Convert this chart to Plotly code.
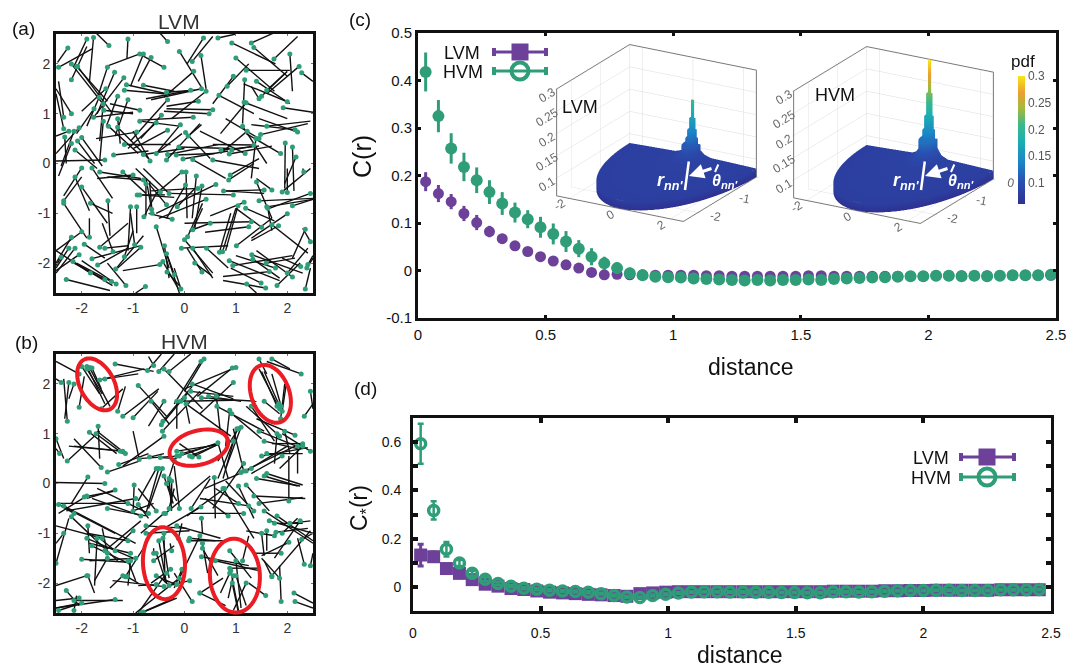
import numpy as np
import plotly.graph_objects as go

W, H = 1083, 667
PURPLE = "#6d4199"
GREEN = "#2f9d78"
DOT = "#2f9d78"
RED = "#ec1c24"
FONT = "Liberation Sans"

# rods (a) and (b): dot x, dot y, other end x, other end y
lvm_rods = [
(-2.27,2.32,-2.47,2.03),(-1.9,2.5,-2.15,1.95),(-1.77,2.53,-1.85,1.63),(-1.47,2.37,-1.75,2.65),(-1.1,2.5,-1.12,2.1),
(-0.87,2.2,-1.52,1.95),(-0.4,1.93,-0.88,2.2),(-0.65,2.13,-0.9,1.65),(-0.8,2.2,-1.05,1.55),(-0.33,2.45,-0.55,2.7),
(-0.1,2.25,0.35,1.5),(0.15,2.05,0.55,2.55),(0.32,2.17,0.42,1.5),(0.18,1.85,-0.4,1.33),(0.37,2.52,0.05,2.0),
(0.65,2.52,1.0,2.6),(0.92,2.42,1.77,2.0),(1.3,2.42,1.8,2.65),(1.35,2.33,2.0,1.75),(1.0,2.12,1.75,1.45),
(1.74,2.1,2.2,2.55),(2.05,2.2,2.1,1.45),(1.2,1.87,2.05,1.87),(0.95,1.75,0.55,1.2),(0.83,1.55,1.25,2.0),
(1.17,1.68,1.13,0.8),(2.23,1.95,1.6,1.4),(2.28,1.82,2.5,1.65),(-2.08,1.95,-1.4,1.0),(-2.2,2.0,-1.55,1.15),
(-2.1,1.95,-1.5,1.25),(-2.45,1.93,-1.8,2.3),(-2.2,1.68,-1.9,2.35),(-1.36,1.83,-1.7,1.0),(-1.18,1.72,-1.75,0.95),
(-1.5,1.93,-1.7,1.3),(-0.8,1.57,-0.2,1.45),(-1.13,1.58,-0.35,1.4),(-1.17,1.47,-0.4,1.4),(-0.35,1.43,0.2,1.47),
(0.12,1.47,-0.75,1.3),(0.33,1.5,-0.65,1.28),(0.42,1.45,-0.25,0.9),(1.4,1.65,2.05,1.2),(1.6,1.47,2.0,1.85),
(1.5,1.35,1.95,1.8),(1.45,1.3,1.3,1.55),(2.0,1.24,1.15,1.6),(1.16,1.23,2.0,0.9),(1.2,1.22,0.7,0.6),
(1.92,1.12,2.5,1.03),(-1.53,1.5,-2.0,1.05),(-1.66,1.33,-1.9,0.75),(-1.3,1.35,-1.52,0.75),(-1.1,1.28,-1.35,0.55),
(-1.58,1.2,-1.65,0.45),(-1.76,1.1,-2.1,0.6),(-1.57,1.07,-1.0,1.0),(-1.77,0.93,-1.0,1.03),(-0.87,1.07,-1.45,1.2),
(-0.33,1.28,-1.05,0.45),(0.27,1.25,-0.35,1.15),(0.55,1.08,-0.35,1.1),(0.48,1.0,-0.4,1.05),(0.67,1.37,1.35,1.0),
(-0.45,0.97,-0.85,0.5),(0.17,0.93,-0.85,0.87),(-0.87,0.85,-0.1,0.75),(-0.55,0.82,-1.1,0.3),(-1.3,0.9,-1.25,0.4),
(-1.58,0.85,-1.65,0.05),(-1.48,0.75,-0.9,0.2),(-1.3,0.73,-0.7,0.1),(-2.35,0.93,-2.45,1.65),(-2.2,1.0,-2.5,1.5),
(-2.35,0.7,-2.5,1.4),(-2.25,0.65,-2.5,0.55),(-2.33,0.53,-2.3,0.0),(-2.15,0.65,-2.4,-0.05),(-2.05,0.72,-2.5,0.2),
(-2.0,0.52,-1.6,-0.05),(-2.08,0.45,-1.75,0.0),(-2.2,0.4,-2.45,-0.25),(-2.13,0.27,-1.7,-0.1),(-0.93,0.63,-1.72,0.5),
(-0.33,0.67,-1.0,0.3),(-0.08,0.78,-0.55,0.2),(0.02,0.62,0.5,0.1),(0.07,0.55,0.33,0.78),(1.13,0.75,1.6,0.0),
(1.22,0.65,0.7,0.2),(1.6,0.75,2.45,0.85),(1.48,0.58,2.4,0.8),(1.39,0.5,1.3,-0.3),(1.45,0.5,0.8,0.9),
(2.15,0.68,1.3,0.78),(2.2,0.63,1.45,0.9),(1.96,0.41,1.95,-0.5),(2.1,0.33,2.13,-0.55),(2.17,0.13,1.95,-0.4),
(1.87,0.2,1.2,0.6),(-1.17,0.38,-0.27,0.38),(-1.38,0.17,-0.7,0.25),(-0.8,0.18,0.0,0.3),(-0.67,0.05,-1.0,0.65),
(-0.55,0.2,-0.05,0.6),(-0.33,0.18,0.65,0.38),(-0.35,0.07,0.3,0.8),(-0.16,0.17,0.58,0.2),(-0.11,0.33,0.9,0.3),
(-0.03,0.09,0.85,0.25),(0.16,0.08,0.8,-0.3),(0.55,0.07,1.45,-0.1),(0.71,0.27,1.45,0.35),(0.87,0.19,1.7,0.35),
(0.92,0.27,1.35,0.35),(1.18,0.2,0.3,0.65),(1.35,0.37,0.55,0.38),(-1.55,0.07,-2.5,0.05),(-2.0,-0.09,-2.35,-0.65),
(-1.8,-0.09,-1.4,-0.7),(-1.65,-0.17,-0.85,-0.3),(-1.2,-0.17,-0.75,-0.6),(-1.0,-0.23,-1.7,-0.3),(-0.8,-0.33,-1.5,-0.27),
(-0.75,-0.41,-0.75,-1.05),(-2.13,-0.27,-1.85,-0.95),(-2.35,-0.75,-2.0,-0.27),(-0.05,-0.17,-0.55,-0.6),(0.03,-0.17,0.05,-1.1),
(0.02,-0.43,-0.35,-1.1),(0.23,-0.25,0.15,-1.1),(0.26,-0.5,-0.65,-0.55),(0.34,-0.45,0.2,-1.3),(0.61,-0.42,-0.55,-1.0),
(0.76,-0.55,1.55,-0.6),(0.89,-0.23,1.45,0.1),(0.86,-0.33,1.35,0.0),(0.95,-0.63,-0.3,-0.6),(1.4,-0.37,1.7,-1.1),
(1.55,-0.53,0.8,-0.55),(1.7,-0.53,1.4,-0.3),(1.9,-0.57,2.45,-0.1),(2.0,-0.58,2.0,-0.1),(2.32,-0.17,2.3,-0.1),
(2.45,-0.6,1.65,-0.9),(-0.92,-0.63,-0.38,-0.63),(-0.87,-0.63,-0.2,-0.68),(-0.47,-0.57,-0.95,-0.1),(-0.3,-0.6,-0.8,-0.1),
(-0.35,-0.83,-0.7,-0.4),(-0.14,-0.87,0.2,-0.5),(-0.64,-0.92,-0.75,-0.3),(-0.63,-1.0,-0.68,-0.35),(-0.79,-1.07,-0.55,-0.6),
(-1.05,-0.87,-1.1,-1.75),(-0.93,-0.87,-0.93,-1.4),(-1.49,-0.75,-1.45,-1.45),(-1.83,-0.8,-1.4,-1.0),(-2.0,-0.47,-1.5,-1.2),
(-2.35,-0.8,-1.9,-1.5),(0.42,-0.72,-0.5,-1.1),(1.16,-0.78,0.5,-1.05),(1.04,-0.85,0.8,-1.75),(1.19,-0.9,1.75,-1.15),
(1.45,-0.75,2.5,-0.7),(1.6,-0.87,2.5,-0.72),(1.62,-0.9,1.7,-1.35),(2.1,-0.85,2.5,-0.72),(2.0,-1.01,1.3,-1.5),
(-0.24,-1.12,-0.7,-1.0),(-0.55,-1.27,-0.3,-2.1),(0.5,-1.2,0.1,-1.35),(1.3,-1.17,0.0,-1.2),(1.25,-1.27,0.4,-1.38),
(1.5,-1.28,1.0,-0.9),(1.7,-1.23,2.4,-1.8),(1.83,-1.25,1.3,-1.55),(2.35,-1.32,2.1,-1.9),(0.16,-1.33,0.35,-0.9),
(0.06,-1.47,0.35,-0.8),(0.0,-1.53,0.55,-2.2),(-1.85,-1.48,-1.85,-1.1),(-2.0,-1.37,-2.5,-1.75),(-2.2,-1.48,-2.5,-2.0),
(-1.95,-1.62,-1.55,-1.9),(-2.25,-1.7,-2.5,-2.1),(-2.13,-1.7,-2.5,-2.2),(-2.05,-1.83,-2.5,-2.15),(-2.17,-1.97,-1.4,-2.45),
(-2.4,-1.88,-2.5,-2.05),(-1.8,-1.91,-0.85,-1.65),(-1.65,-1.68,-1.1,-1.2),(-1.55,-1.7,-1.1,-1.65),(-1.39,-1.77,-1.6,-1.2),
(-0.97,-1.63,-1.05,-1.0),(-0.85,-1.68,-1.3,-2.1),(-1.17,-1.87,-1.0,-1.35),(-1.69,-2.04,-1.1,-1.7),(-1.34,-2.12,-0.8,-1.45),
(-1.83,-2.2,-2.5,-1.75),(-0.39,-1.65,-0.3,-2.3),(-0.35,-1.81,-0.1,-2.6),(-0.48,-2.03,-1.2,-2.15),(-0.42,-1.97,-0.1,-2.55),
(-0.34,-2.18,-0.1,-2.45),(-0.2,-2.23,-0.35,-1.8),(-0.06,-1.7,0.85,-1.65),(0.16,-1.7,0.55,-2.3),(0.43,-1.7,0.85,-2.1),
(0.68,-1.78,0.9,-1.0),(0.74,-1.77,1.0,-0.9),(1.01,-1.65,1.7,-1.1),(0.87,-1.95,1.85,-2.35),(0.94,-2.05,2.1,-1.85),
(1.31,-1.83,2.3,-2.2),(1.33,-1.92,1.85,-2.3),(1.59,-2.0,2.15,-1.9),(1.77,-2.1,1.0,-1.85),(2.0,-2.2,2.4,-1.7),
(2.1,-2.28,1.4,-1.75),(2.26,-2.07,1.9,-1.9),(2.4,-2.03,2.5,-1.85),(2.38,-2.1,2.5,-1.9),(2.45,-1.57,2.3,-1.3),
(1.65,-2.17,0.75,-2.27),(0.34,-2.18,0.05,-1.7),(0.2,-2.0,0.53,-2.25),(-2.3,-2.33,-1.45,-2.55),(-1.55,-2.33,-2.15,-2.0),
(-1.42,-2.37,-2.1,-2.0),(-1.33,-2.42,-2.0,-1.95),(-1.14,-2.45,-1.5,-2.0),(-0.76,-2.47,-0.95,-2.6),(-0.07,-2.52,-0.2,-2.1),
(1.21,-2.42,1.4,-2.6),(1.49,-2.4,0.9,-2.1),(1.58,-2.5,0.75,-2.35),(1.8,-2.45,2.25,-2.0),(2.35,-2.52,2.45,-2.1),
]
hvm_rods = [
(-2.0,2.35,-1.65,1.8),(-1.9,2.35,-1.55,1.6),(-1.85,2.33,-1.45,1.55),(-1.9,2.3,-1.6,1.8),(-1.8,2.32,-1.62,1.9),
(-2.05,2.2,-2.5,2.45),(-1.65,2.08,-0.78,2.3),(-1.55,2.1,-0.9,2.2),(-1.35,2.4,-0.6,2.25),(-0.6,2.37,-0.7,2.55),
(-0.72,2.27,-0.45,2.6),(-0.5,2.25,-0.2,2.6),(-0.4,2.3,0.35,1.5),(-0.3,2.25,0.12,2.6),(0.32,2.45,-0.2,1.6),
(0.38,2.5,0,1.85),(1.0,2.33,0.0,1.9),(0.95,2.03,0.3,1.4),(0.93,2.32,0.25,1.75),(0.15,2.0,0.95,1.7),
(-2.4,2.03,-2.5,2.1),(-2.25,2.03,-2.33,1.3),(-2.15,2.0,-2.25,1.7),(-2.28,1.25,-2.35,2.1),(-2.05,1.53,-1.95,2.15),
(-1.0,1.32,-0.52,1.85),(-0.9,1.97,-0.35,1.35),(-1.2,1.35,-0.5,1.9),(-1.3,1.45,-1.15,1.95),(-1.62,1.5,-1.2,1.9),
(-0.4,1.65,-0.7,1.15),(-0.15,1.65,-0.15,1.1),(-0.65,1.65,-0.3,1.2),(-0.42,1.25,0.15,1.95),(-0.45,1.18,0.05,1.8),
(-0.43,1.05,0.3,1.85),(-0.07,1.65,0.95,1.67),(0.0,1.72,0.1,1.2),(0.12,1.85,0.95,1.75),(0.47,1.75,1.1,1.65),
(0.33,1.72,1.4,1.65),(0.62,1.75,0.7,1.0),(0.63,1.55,1.55,1.05),(0.03,1.6,0.9,0.95),(0.88,1.47,0.8,0.75),
(0.92,1.4,1.5,0.9),(1.3,1.55,1.75,0.85),(-2.28,0.45,-1.65,1.05),(-2.5,0.9,-2.35,0.5),(-2.43,0.6,-2.5,0.7),
(-1.85,1.03,-1.32,0.6),(-1.68,1.15,-1.65,0.5),(-1.72,1.0,-1.2,0.6),(-1.2,0.65,-2.15,0.75),(-1.15,0.6,-1.7,1.05),
(-1.25,0.65,-2.25,0.75),(-1.62,0.32,-2.15,0.9),(-1.5,0.23,-0.88,0.45),(-1.28,0.38,-0.7,0.6),(-0.88,0.48,-1.0,1.05),
(-0.4,0.95,-1.2,0.35),(-0.47,0.52,-0.15,0.5),(-0.68,0.53,-0.4,0.6),(-0.15,0.55,-0.9,0.5),(-0.1,0.55,0.6,0.8),
(-0.05,0.6,0.65,0.8),(0.15,0.53,0.68,0.8),(0.1,0.55,0.65,0.78),(-0.15,0.65,0.6,0.77),(0.28,0.53,-0.1,0.8),
(0.65,0.82,0.85,0.1),(0.95,0.85,0.65,0.1),(1.02,1.1,0.75,0.1),(1.1,1.13,0.8,0.3),(1.05,1.1,0.65,0.45),
(1.3,0.3,0.4,-0.1),(1.15,0.25,0.95,1.1),(1.1,0.22,2.15,0.75),(1.2,0.25,2.0,0.75),(1.5,0.55,2.4,0.72),
(1.6,0.6,2.3,0.6),(1.9,0.55,1.3,0.2),(1.55,0.85,2.2,0.7),(1.45,1.05,2.3,0.7),(1.8,1.0,1.75,0.4),
(1.95,1.05,2.05,0.6),(2.15,0.97,1.4,1.3),(2.3,0.8,1.7,0.8),(2.45,0.65,1.9,1.0),(1.85,0.95,1.2,1.55),
(2.33,1.35,2.5,1.6),(1.88,1.55,1.7,2.2),(1.85,1.5,1.45,2.3),(1.8,1.55,1.5,2.25),(1.83,1.6,1.55,2.25),
(1.9,1.45,1.98,2.0),(1.87,1.3,1.95,2.0),(1.55,1.65,1.85,1.4),(2.27,2.2,1.6,2.45),(1.7,2.5,2.05,2.3),
(2.45,1.85,2.5,1.5),(1.45,2.5,1.6,2.2),(2.3,0.75,1.85,0.3),(2.2,0.75,2.2,0.2),(2.03,-0.35,2.03,0.55),
(1.4,0.1,2.25,-0.05),(1.55,0.15,2.2,-0.05),(1.6,0.2,2.3,-0.03),(1.15,0.4,0.55,-0.5),(1.05,-0.05,1.35,-0.7),
(1.2,-0.03,1.65,-0.55),(1.35,-0.25,2.35,-0.3),(1.45,-0.4,2.3,-0.28),(1.35,-0.55,0.8,0.05),(1.05,-0.4,0.6,-0.1),
(1.15,-0.6,0.1,-0.6),(1.25,-0.45,0.3,-0.3),(0.85,-0.65,0.4,-0.3),(0.78,-0.1,0.05,-0.65),(0.33,-0.7,0.35,-1.0),
(0.32,-0.47,-0.4,-0.9),(1.55,-0.55,2.5,-1.2),(1.65,-0.75,2.5,-1.0),(1.75,-0.8,2.3,-0.8),(1.8,-0.65,2.5,-1.15),
(2.05,-0.8,2.45,-0.75),(2.25,-0.75,1.75,-1.5),(1.78,-0.98,2.4,-0.9),(1.75,-1.05,1.2,-0.95),(1.6,-0.95,1.6,-1.35),
(1.5,-1.0,1.55,-1.45),(1.9,-1.0,2.2,-0.7),(2.03,-1.18,1.5,-1.45),(2.28,-1.12,2.5,-1.0),(1.88,-1.4,1.35,-1.4),
(1.7,-1.85,2.45,-0.95),(1.7,-1.87,1.55,-1.55),(1.85,-1.9,1.5,-1.5),(2.33,-1.62,2.2,-1.1),(2.45,-1.65,2.5,-1.4),
(2.13,-2.2,2.5,-2.4),(1.88,-2.37,1.85,-1.65),(2.15,-2.37,2.5,-2.5),(1.58,-2.25,1.25,-2.0),(1.2,-2.0,0.95,-2.55),
(0.88,-1.35,1.3,-1.9),(1.0,-1.55,1.1,-2.5),(0.9,-1.75,1.05,-2.55),(0.88,-1.8,0.7,-2.2),(0.95,-1.85,0.85,-2.3),
(1.0,-1.85,1.2,-2.45),(0.93,-2.0,1.05,-2.6),(0.88,-1.7,1.45,-1.7),(0.6,-1.55,1.45,-1.75),(0.33,-1.47,1.25,-1.65),
(0.35,-1.3,0.65,-1.85),(1.13,-1.55,1.25,-1.05),(0.3,-2.2,0.75,-1.9),(0.15,-2.37,-0.2,-1.8),(0.35,-1.2,0.45,-1.8),
(0.3,-1.05,-0.1,-1.9),(0.1,-1.1,0.6,-1.15),(0.08,-1.15,0.75,-1.15),(-0.12,-1.1,-0.05,-0.8),(-0.15,-0.85,0.7,-1.1),
(-0.4,-1.0,-0.38,-1.98),(-0.5,-1.15,-0.35,-2.0),(-0.55,-1.4,-0.35,-2.0),(-0.42,-1.1,-0.3,-1.9),(-0.6,-1.4,-0.6,-1.3),
(-0.25,-1.35,-0.28,-1.2),(-0.55,-1.85,-0.3,-1.98),(-0.55,-2.03,-0.9,-2.05),(-0.4,-2.07,-1.4,-1.95),(-0.3,-2.05,-0.45,-1.9),
(-0.27,-1.72,-0.65,-2.0),(-0.05,-1.72,-0.2,-2.1),(0.1,-1.95,-0.3,-2.05),(-0.15,-2.03,-0.35,-1.95),(-0.6,-1.55,-0.2,-1.25),
(-0.35,-1.8,-0.9,-2.6),(-0.1,-1.9,-0.95,-2.6),(-1.12,-1.87,-0.9,-2.0),(-1.15,-1.87,-0.8,-1.3),(-1.05,-1.55,-1.1,-2.05),
(-1.1,-1.55,-0.95,-1.95),(-0.95,-1.5,-1.85,-1.55),(-1.05,-1.4,-1.85,-1.2),(-1.0,-0.95,-1.35,-1.3),(-1.1,-1.15,-1.9,-1.0),
(-1.35,-1.35,-1.65,-1.1),(-1.55,-1.35,-0.85,-0.75),(-1.5,-1.4,-1.6,-0.9),(-1.5,-1.5,-1.75,-1.95),(-1.2,-1.85,-1.45,-2.1),
(-2.0,-1.52,-1.1,-1.58),(-2.5,-1.6,-2.25,-0.7),(-2.35,-1.0,-2.5,-1.2),(-1.88,-0.85,-1.85,-1.4),(-1.9,-1.85,-2.5,-2.05),
(-1.88,-1.85,-1.75,-2.2),(-1.6,-1.1,-2.5,-0.85),(-1.8,-1.25,-1.1,-1.6),(-1.9,-1.1,-1.0,-1.5),(-2.2,-0.67,-1.3,-1.55),
(-1.7,-1.1,-1.75,-2.05),(-2.45,-0.42,-1.35,-1.0),(-2.35,-0.45,-0.95,-1.2),(-2.15,-0.6,-2.4,-0.45),(-1.5,-0.5,-0.75,-0.65),
(-1.0,-0.55,-0.6,-0.4),(-1.1,-0.4,-2.45,-0.4),(-0.95,-0.3,-2.3,-0.55),(-0.9,-0.42,-0.7,-0.7),(-0.85,-0.65,-1.8,-0.3),
(-0.7,-0.6,-1.7,-0.1),(-0.55,-0.55,-0.9,-0.1),(-0.37,-0.6,0.5,0.15),(-0.3,-0.5,-0.2,-0.1),(-1.9,-0.25,-2.45,-0.6),
(-1.95,-0.27,-1.35,-0.15),(-1.35,-0.13,-1.9,-0.3),(-1.55,0.0,-2.5,0.02),(-1.88,0.13,-2.2,-0.4),(-0.98,-0.03,-1.0,-0.6),
(-0.35,0.0,-0.15,-0.35),(-0.4,0.15,-0.22,-0.4),(-0.3,0.1,-0.25,-0.55),(-0.25,0.05,-0.25,-0.4),(-0.5,0.3,-0.75,-0.6),
(-0.55,0.3,-0.9,-0.35),(-0.43,0.3,-0.7,-0.5),(-0.2,0.45,-0.35,-0.05),(-0.1,-0.5,-0.2,0.35),(0.13,-0.5,0.5,0.1),
(0.58,0.12,0.6,-0.7),(0.75,-0.1,1.35,-1.1),(-0.75,-0.85,0.05,-0.9),(-0.75,-1.0,0.1,-0.95),(-0.4,-0.6,-0.85,-1.0),
(-2.3,-2.15,-2.05,-2.45),(-2.15,-2.35,-1.2,-2.35),(-2.05,-2.3,-2.5,-2.35),(-1.35,-2.33,-2.5,-2.5),(-2.0,-2.4,-2.5,-2.5),
(-2.45,-2.55,-2.15,-2.45),(-2.15,-2.55,-2.1,-2.25),(-0.85,-2.6,-0.2,-2.3),(-0.8,-2.58,-0.15,-2.3),(0.3,-2.2,0.8,-2.45),
]
# red ellipses in (b): centre x, centre y, semi-axis a, semi-axis b, tilt of a from vertical (deg)
hvm_ellipses = [(-1.70,1.99,28,17,28),(1.67,1.80,30,19,20),(0.28,0.72,30,17,-75),(-0.40,-1.60,36,21,3),(0.98,-1.85,37,25,3)]

# panel (c)
c_x = [0.03,0.08,0.13,0.18,0.23,0.28,0.33,0.38,0.43,0.48,0.53,0.58,0.63,0.68,0.73,0.78,0.83,0.88,0.93,0.98,
       1.03,1.08,1.13,1.18,1.23,1.28,1.33,1.38,1.43,1.48,1.53,1.58,1.63,1.68,1.73,1.78,1.83,1.88,1.93,1.98,
       2.03,2.08,2.13,2.18,2.23,2.28,2.33,2.38,2.43,2.48]
c_hvm = [0.418,0.325,0.257,0.218,0.19,0.165,0.141,0.122,0.108,0.091,0.077,0.061,0.046,0.029,0.015,0.005,-0.006,-0.01,-0.013,-0.014,
         -0.015,-0.017,-0.018,-0.019,-0.02,-0.021,-0.02,-0.021,-0.02,-0.02,-0.019,-0.02,-0.018,-0.017,-0.016,-0.015,-0.014,-0.013,-0.012,-0.012,
         -0.011,-0.011,-0.012,-0.011,-0.012,-0.011,-0.01,-0.01,-0.01,-0.009]
c_hvm_err = [0.041,0.034,0.032,0.03,0.027,0.025,0.024,0.021,0.019,0.022,0.022,0.022,0.018,0.018,0.014,0.012,0.012,0.01,0.008,0.008,
             0.008,0.008,0.009,0.009,0.01,0.01,0.01,0.01,0.01,0.01,0.01,0.01,0.009,0.009,0.009,0.008,0.007,0.007,0.006,0.006,
             0.006,0.006,0.006,0.006,0.006,0.006,0.006,0.005,0.005,0.005]
c_lvm = [0.187,0.162,0.145,0.12,0.101,0.082,0.067,0.052,0.04,0.029,0.02,0.012,0.005,-0.004,-0.009,-0.008,-0.009,-0.009,-0.01,-0.01,
         -0.01,-0.01,-0.011,-0.011,-0.012,-0.012,-0.012,-0.012,-0.012,-0.012,-0.011,-0.011,-0.012,-0.012,-0.012,-0.012,-0.012,-0.012,-0.012,-0.012,
         -0.011,-0.011,-0.011,-0.011,-0.011,-0.011,-0.01,-0.01,-0.01,-0.01]
c_lvm_err = [0.02,0.018,0.016,0.016,0.016,0.012,0.01,0.01,0.008,0.008,0.006,0.006,0.006,0.005,0.005,0.005,0.005,0.005,0.005,0.005,
             0.004,0.004,0.004,0.004,0.004,0.004,0.004,0.004,0.004,0.004,0.004,0.004,0.004,0.004,0.004,0.004,0.004,0.004,0.004,0.004,
             0.004,0.004,0.004,0.004,0.004,0.004,0.004,0.004,0.004,0.004]
# panel (d)
d_x = [0.030,0.081,0.131,0.182,0.232,0.283,0.333,0.384,0.434,0.485,0.535,0.586,0.636,0.687,0.737,0.788,0.838,0.889,0.939,0.990,
       1.040,1.091,1.141,1.192,1.242,1.293,1.343,1.394,1.444,1.495,1.545,1.596,1.646,1.697,1.747,1.798,1.848,1.899,1.949,2.000,
       2.050,2.101,2.151,2.202,2.252,2.303,2.353,2.404,2.454]
d_hvm = [0.593,0.317,0.156,0.099,0.056,0.032,0.014,0.003,-0.006,-0.01,-0.014,-0.017,-0.019,-0.022,-0.028,-0.036,-0.042,-0.044,-0.036,-0.031,
         -0.025,-0.021,-0.02,-0.02,-0.021,-0.021,-0.022,-0.022,-0.023,-0.023,-0.024,-0.024,-0.02,-0.02,-0.021,-0.02,-0.018,-0.016,-0.015,-0.015,
         -0.014,-0.014,-0.015,-0.015,-0.015,-0.012,-0.012,-0.012,-0.011]
d_hvm_err = [0.083,0.038,0.03,0.012,0.01,0.008,0.006,0.005,0.004,0.004,0.004,0.004,0.004,0.004,0.004,0.004,0.004,0.004,0.004,0.004,
             0.003,0.003,0.003,0.003,0.003,0.003,0.003,0.003,0.003,0.003,0.003,0.003,0.003,0.003,0.003,0.003,0.003,0.003,0.003,0.003,
             0.003,0.003,0.003,0.003,0.003,0.003,0.003,0.003,0.003]
d_lvm = [0.132,0.125,0.076,0.056,0.03,0.011,0.003,-0.007,-0.011,-0.017,-0.022,-0.025,-0.028,-0.031,-0.033,-0.036,-0.039,-0.028,-0.025,-0.022,
         -0.02,-0.02,-0.02,-0.02,-0.02,-0.02,-0.02,-0.02,-0.02,-0.02,-0.02,-0.02,-0.018,-0.018,-0.018,-0.018,-0.016,-0.016,-0.015,-0.015,
         -0.014,-0.014,-0.014,-0.014,-0.014,-0.012,-0.012,-0.012,-0.012]
d_lvm_err = [0.045,0.02,0.01,0.008,0.006,0.005,0.004,0.004,0.004,0.004,0.004,0.004,0.004,0.004,0.004,0.004,0.004,0.004,0.004,0.004,
             0.003,0.003,0.003,0.003,0.003,0.003,0.003,0.003,0.003,0.003,0.003,0.003,0.003,0.003,0.003,0.003,0.003,0.003,0.003,0.003,
             0.003,0.003,0.003,0.003,0.003,0.003,0.003,0.003,0.003]
# inset pdf: stepped radial profile, last entry is the bottom of the disc wall
inset_r = [0.0,0.05,0.05,0.1,0.1,0.15,0.15,0.2,0.2,0.3,0.3,0.45,0.7,2.0,2.5,2.5]
inset_lvm = [0.205,0.205,0.165,0.165,0.14,0.14,0.122,0.122,0.108,0.108,0.095,0.087,0.082,0.08,0.079,0.06]
inset_hvm = [0.300,0.300,0.225,0.225,0.175,0.175,0.145,0.145,0.125,0.125,0.105,0.09,0.083,0.08,0.079,0.06]
inset_x_ticks = [-2,0,2]
inset_y_ticks = [-2,-1,0]
inset_z_ticks = [0.1,0.15,0.2,0.25,0.3]

def fx(p): return p / W
def fy(p): return 1 - p / H
def dom(a, b): return [a / W, b / W]
def domy(top, bot): return [1 - bot / H, 1 - top / H]

fig = go.Figure()

def rod_traces(rods, xa, ya):
    lx, ly = [], []
    for d in rods:
        lx += [d[0], d[2], None]; ly += [d[1], d[3], None]
    fig.add_trace(go.Scatter(x=lx, y=ly, mode="lines", line=dict(color="#111", width=1.4),
                             xaxis=xa, yaxis=ya, showlegend=False, hoverinfo="skip"))
    fig.add_trace(go.Scatter(x=[d[0] for d in rods], y=[d[1] for d in rods], mode="markers",
                             marker=dict(color=DOT, size=5), xaxis=xa, yaxis=ya, showlegend=False))

rod_traces(lvm_rods, "x", "y")
rod_traces(hvm_rods, "x2", "y2")

def ebar(color, w, t):
    return dict(color=color, width=w, thickness=t)

fig.add_trace(go.Scatter(x=c_x, y=c_lvm, mode="markers", error_y=dict(array=c_lvm_err, **ebar(PURPLE,0,3)),
    marker=dict(color=PURPLE, size=11), xaxis="x3", yaxis="y3", showlegend=False))
fig.add_trace(go.Scatter(x=c_x, y=c_hvm, mode="markers", error_y=dict(array=c_hvm_err, **ebar(GREEN,0,3)),
    marker=dict(color=GREEN, size=12), xaxis="x3", yaxis="y3", showlegend=False))
fig.add_trace(go.Scatter(x=d_x, y=d_lvm, mode="markers", error_y=dict(array=d_lvm_err, **ebar(PURPLE,3,3)),
    marker=dict(color=PURPLE, size=13, symbol="square"), xaxis="x4", yaxis="y4", showlegend=False))
fig.add_trace(go.Scatter(x=d_x, y=d_hvm, mode="markers", error_y=dict(array=d_hvm_err, **ebar(GREEN,3,2.5)),
    marker=dict(color="rgba(0,0,0,0)", size=10, symbol="circle", line=dict(color=GREEN, width=3.5)),
    xaxis="x4", yaxis="y4", showlegend=False))

# 3D insets
theta = np.linspace(0, np.pi, 90)
cs = [[0,"#2e3192"],[0.17,"#2a4fb0"],[0.33,"#1b86c8"],[0.5,"#1cb0b0"],[0.62,"#3bb98a"],[0.75,"#a8b83a"],[0.87,"#eda030"],[1,"#f7e619"]]
for prof, sc, show in ((inset_lvm, "scene", False), (inset_hvm, "scene2", True)):
    r = np.array(inset_r)
    zz = np.outer(np.array(prof), np.ones_like(theta))
    fig.add_trace(go.Surface(
        x=np.outer(r, np.cos(theta)), y=-np.outer(r, np.sin(theta)),
        z=zz, surfacecolor=zz,
        scene=sc, colorscale=cs, cmin=0.06, cmax=0.3, showscale=show,
        lighting=dict(ambient=1, diffuse=0, specular=0, fresnel=0),
        colorbar=dict(x=fx(1018), xanchor="left", xpad=0, ypad=0, thickness=7, len=128/H, lenmode="fraction",
                      y=fy(204), yanchor="bottom", tickvals=inset_z_ticks, ticktext=["0.1","0.15","0.2","0.25","0.3"],
                      ticks="", outlinewidth=0, tickfont=dict(family=FONT, size=12, color="#555")),
    ))

def scene_axis(rng, ticks, labels):
    return dict(range=rng, tickvals=ticks, ticktext=labels, title="", showbackground=False, gridcolor="#dcdcdc", gridwidth=1,
                showline=True, linecolor="#777", linewidth=2, mirror=True, zeroline=False, showspikes=False,
                ticks="outside", ticklen=2, tickcolor="#999", tickfont=dict(family=FONT, size=12, color="#666"))

def scene(x0, x1, top, bot, y_labels):
    return dict(domain=dict(x=dom(x0, x1), y=domy(top, bot)),
                xaxis=scene_axis([-2.5,2.5], inset_x_ticks, ["-2","0","2"]), yaxis=scene_axis([-2.5,0], inset_y_ticks, y_labels),
                zaxis=scene_axis([0.06,0.3], inset_z_ticks, ["0.1","0.15","0.2","0.25","0.3"]),
                aspectmode="manual", aspectratio=dict(x=1.25, y=1.25, z=0.975),
                camera=dict(projection=dict(type="orthographic"), eye=dict(x=0.72, y=-1.25, z=0.54),
                            center=dict(x=0, y=0, z=0), up=dict(x=0, y=0, z=1)))

def frame(x0, x1, rng, **kw):
    return dict(domain=dom(x0, x1), range=rng, showline=True, mirror="allticks", linecolor="#111", linewidth=3,
                ticks="inside", showgrid=False, zeroline=False, **kw)

ab_ticks = [-2,-1,0,1,2]
ab_text = ["-2","-1","0","1","2"]
tf_ab = dict(family=FONT, size=14, color="#333")
tf_c = dict(family=FONT, size=15, color="#111")
tf_d = dict(family=FONT, size=14, color="#111")
ab = dict(tickvals=ab_ticks, ticktext=ab_text, ticklen=2, tickwidth=1, tickcolor="#777", tickfont=tf_ab)
layout = dict(width=W, height=H, margin=dict(l=0, r=0, t=0, b=0, autoexpand=False), paper_bgcolor="white", plot_bgcolor="white",
    showlegend=False, font=dict(family=FONT),
    xaxis=frame(56,313,[-2.5,2.5], anchor="y", **ab),
    yaxis=dict(frame(0,1,[-2.6,2.6], anchor="x", **ab), domain=domy(34,293)),
    xaxis2=frame(56,313,[-2.5,2.5], anchor="y2", **ab),
    yaxis2=dict(frame(0,1,[-2.6,2.6], anchor="x2", **ab), domain=domy(354,613)),
    xaxis3=frame(418,1056,[0,2.5], tickvals=[0,0.5,1,1.5,2,2.5], ticktext=["0","0.5","1","1.5","2","2.5"], ticklen=3, tickwidth=3, tickcolor="#111", tickfont=tf_c, ticklabelstandoff=1, anchor="y3"),
    yaxis3=dict(frame(0,1,[-0.1,0.5], tickvals=[-0.1,0,0.1,0.2,0.3,0.4,0.5], ticktext=["-0.1","0","0.1","0.2","0.3","0.4","0.5"], ticklen=3, tickwidth=3, tickcolor="#111", tickfont=tf_c, anchor="x3"), domain=domy(33,318)),
    xaxis4=frame(413,1051,[0,2.5], tickvals=[0,0.5,1,1.5,2,2.5], ticktext=["0","0.5","1","1.5","2","2.5"], ticklen=5, tickwidth=4, tickcolor="#111", tickfont=tf_d, ticklabelstandoff=7, anchor="y4"),
    yaxis4=dict(frame(0,1,[-0.1,0.7], tickvals=[0,0.1,0.2,0.3,0.4,0.5,0.6,0.7], ticktext=["0","","0.2","","0.4","","0.6",""], ticklen=5, tickwidth=4, tickcolor="#111", tickfont=tf_d, ticklabelstandoff=6, anchor="x4"), domain=domy(418,611)),
    scene=scene(520,793,16,250,["-2","-1",""]), scene2=scene(757,1030,18,252,["-2","-1","0"]),
)
fig.update_layout(**layout)

ann = []
def text(px, py, s, size, color="#111", **kw):
    ann.append(dict(x=fx(px), y=fy(py), xref="paper", yref="paper", text=s, showarrow=False,
                    font=dict(family=FONT, size=size, color=color), xanchor="center", yanchor="middle", **kw))
text(23,29,"(a)",19); text(179,22,"LVM",21,"#333")
text(26,342,"(b)",19); text(184,341,"HVM",21,"#333")
text(360,19,"(c)",19); text(365,388,"(d)",19)
text(362,156,"C(r)",25,textangle=-90); text(751,367,"distance",23)
text(360,508,"C<sub>*</sub>(r)",23,textangle=-90); text(740,655,"distance",23)
text(462,53,"LVM",18); text(463,72,"HVM",18)
text(931,458,"LVM",18); text(931,478,"HVM",18)
text(580,107,"LVM",18); text(835,95,"HVM",18); text(1023,62,"pdf",17)

def white_line(x0, y0, x1, y1, head=0, w=2.5):
    ann.append(dict(x=fx(x1), y=fy(y1), xref="paper", yref="paper", axref="pixel", ayref="pixel",
                    ax=x0-x1, ay=y0-y1, showarrow=True, arrowhead=head, arrowcolor="white", arrowwidth=w, arrowsize=1, text=""))
for off in (0, 236):
    text(670+off,182,"<b><i>r<sub>nn'</sub></i></b>",18,"white")
    text(725+off,182,"<b><i>θ<sub>nn'</sub></i></b>",16,"white")
    white_line(689+off,160,685+off,190)
    white_line(713+off,168,689+off,176,head=2,w=3)
    white_line(719+off,163,715+off,172,w=2)
fig.update_layout(annotations=ann)

# legends and ellipses as paper shapes
shapes = []
def rect(x0,y0,x1,y1,c):
    shapes.append(dict(type="rect",xref="paper",yref="paper",x0=fx(x0),x1=fx(x1),y0=fy(y0),y1=fy(y1),fillcolor=c,line=dict(width=0),layer="above"))
def ring(cx,cy,d,c,w):
    shapes.append(dict(type="circle",xref="paper",yref="paper",x0=fx(cx-d/2),x1=fx(cx+d/2),y0=fy(cy-d/2),y1=fy(cy+d/2),fillcolor="rgba(0,0,0,0)",line=dict(color=c,width=w),layer="above"))
for (x0,x1,cx,ya,yb) in ((492,548,520,52,71),(959,1016,987,457,477)):
    rect(x0,ya-1.5,x1,ya+1.5,PURPLE); rect(x0,ya-4,x0+4,ya+4,PURPLE); rect(x1-4,ya-4,x1,ya+4,PURPLE)
    rect(cx-8.5,ya-8.5,cx+8.5,ya+8.5,PURPLE)
    rect(x0,yb-1.5,x1,yb+1.5,GREEN); rect(x0,yb-4,x0+4,yb+4,GREEN); rect(x1-4,yb-4,x1,yb+4,GREEN)
    ring(cx,yb,17,GREEN,4)

PX0, PY0, SX, SY = 184.5, 483.5, 257/5, 259/5.2
for (cx,cy,a,b,t) in hvm_ellipses:
    phi = np.radians(t)
    ang = np.linspace(0, 2*np.pi, 61)
    u = b*np.cos(ang); v = a*np.sin(ang)
    px = PX0 + cx*SX + u*np.cos(phi) - v*np.sin(phi)
    py = PY0 - cy*SY - u*np.sin(phi) - v*np.cos(phi)
    d = "M " + " L ".join(f"{fx(p):.5f},{fy(q):.5f}" for p,q in zip(px,py)) + " Z"
    shapes.append(dict(type="path",xref="paper",yref="paper",path=d,line=dict(color=RED,width=4),layer="above"))
fig.update_layout(shapes=shapes)

fig.write_html("out.html", config=dict(displayModeBar=False),
               post_script="document.body.style.margin='0';document.documentElement.style.overflow='hidden';")
